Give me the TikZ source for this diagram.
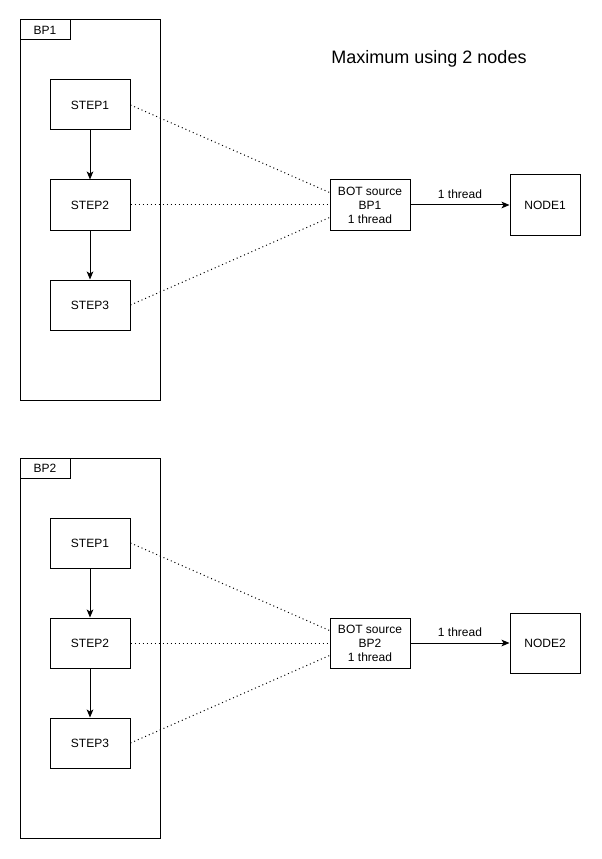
\documentclass[tikz,border=0pt]{standalone}
\usepackage{fontspec}
\setmainfont{Liberation Sans}
\usetikzlibrary{arrows.meta}
\begin{document}
\begin{tikzpicture}[x=0.75pt,y=-0.75pt,line width=0.75pt,
  box/.style={draw,rectangle,minimum width=60pt,minimum height=37.5pt,inner sep=0pt,font=\fontsize{9}{10.5}\selectfont,align=center},
  cont/.style={draw,rectangle,minimum width=105pt,minimum height=285pt,inner sep=0pt},
  tab/.style={draw,rectangle,minimum width=37.5pt,minimum height=15pt,inner sep=0pt,font=\fontsize{9}{10.5}\selectfont},
  dot/.style={dash pattern=on 0.75pt off 2.25pt},
  arr/.style={-{Stealth[length=6pt,width=5pt,inset=1.5pt]}},
  lbl/.style={font=\fontsize{9}{10.5}\selectfont}]
\useasboundingbox (0,0) rectangle (601,859);
\node[font=\fontsize{13.5}{16}\selectfont] (title) at (429,59) {Maximum using 2 nodes};
\foreach \o/\n in {0/1,438/2}{
  \node[cont] (c\n) at (90,210+\o) {};
  \node[tab] (t\n) at (45,30+\o) {BP\n};
  \node[box] (s\n a) at (90,105+\o) {STEP1};
  \node[box] (s\n b) at (90,205+\o) {STEP2};
  \node[box] (s\n c) at (90,305+\o) {STEP3};
  \node[box] (bot\n) at (370,205+\o) {BOT source\\BP\n\\1 thread};
  \node[box,minimum width=52.5pt,minimum height=45pt] (node\n) at (545,205+\o) {NODE\n};
  \draw[arr] (s\n a) -- (s\n b);
  \draw[arr] (s\n b) -- (s\n c);
  \draw[dot] (s\n a.east) -- ([yshift=9.375pt]bot\n.west);
  \draw[dot] (s\n b.east) -- (bot\n.west);
  \draw[dot] (s\n c.east) -- ([yshift=-9.375pt]bot\n.west);
  \draw[arr] (bot\n) -- node[lbl,above=1pt] {1 thread} (node\n);
}
\end{tikzpicture}
\end{document}
